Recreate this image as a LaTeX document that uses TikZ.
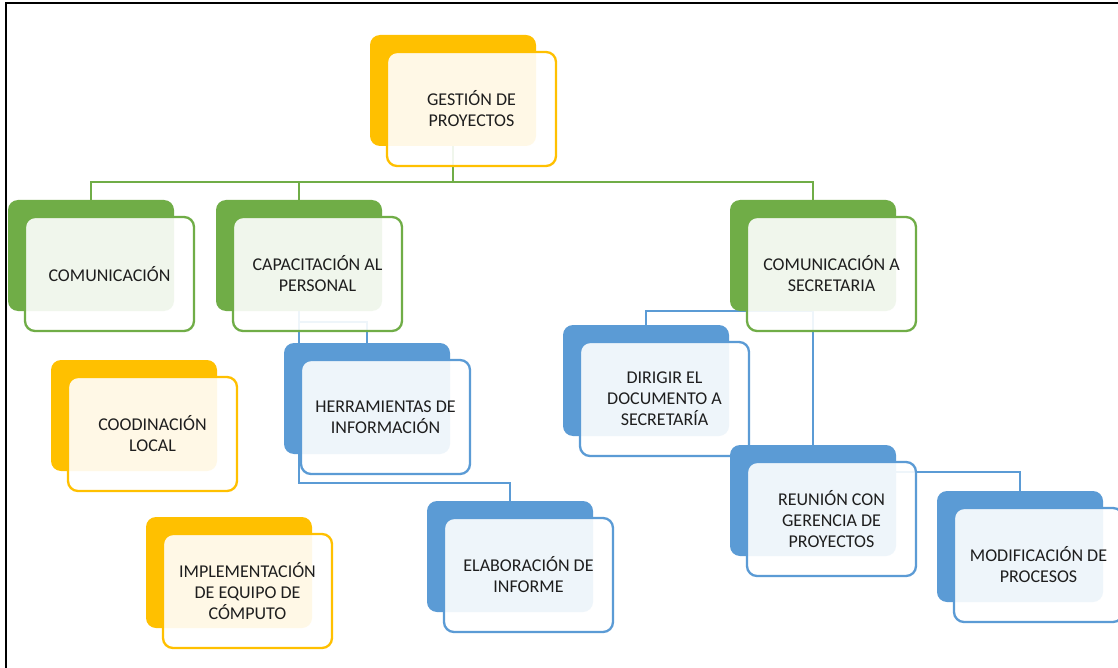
\documentclass[tikz,border=0pt]{standalone}
\usepackage{fontspec}
\setmainfont{Carlito}
\usetikzlibrary{calc}
\definecolor{cyel}{HTML}{FFC000}
\definecolor{cgrn}{HTML}{70AD47}
\definecolor{cblu}{HTML}{5B9BD5}
\definecolor{ctxt}{HTML}{1E1E1E}
\pgfdeclarelayer{paper}
\pgfdeclarelayer{links}
\pgfsetlayers{paper,links,main}
\tikzset{
  backbox/.style={draw=none, fill=#1, rounded corners=10pt,
    minimum width=166pt, minimum height=111pt, anchor=north west,
    inner sep=0pt, outer sep=0pt},
  frontbox/.style={draw=#1, line width=2.3pt, fill=white, fill opacity=0.9,
    text opacity=1, rounded corners=10pt, minimum width=169pt,
    minimum height=114pt, anchor=north west, inner sep=0pt, outer sep=0pt,
    align=center, text=ctxt, font=\fontsize{18}{21}\selectfont},
  linkg/.style={draw=cgrn, line width=2.8pt},
  linkb/.style={draw=cblu, line width=2.5pt}
}
% a card: coloured block behind, translucent outlined block in front
\newcommand\tarjeta[5]{%
  \node[backbox=#2] (#1B) at (#3,#4) {};
  \node[frontbox=#2] (#1F) at (#3+17,#4+17) {#5};
}
\begin{document}
\begin{tikzpicture}[x=1pt,y=-1pt]
\useasboundingbox (0,0) rectangle (1118,668);
\begin{pgfonlayer}{paper}
  \fill[white] (0,0) rectangle (1118,668);
\end{pgfonlayer}
% outer frame
\draw[line width=2pt, black] (6,700) -- (6,3) -- (1130,3);

\tarjeta{gest}{cyel}{370}{35}{GESTIÓN DE\\PROYECTOS}
\tarjeta{com}{cgrn}{8}{200}{COMUNICACIÓN}
\tarjeta{cap}{cgrn}{216}{200}{CAPACITACIÓN AL\\PERSONAL}
\tarjeta{sec}{cgrn}{730}{200}{COMUNICACIÓN A\\SECRETARIA}
\tarjeta{coo}{cyel}{51}{360}{COODINACIÓN\\LOCAL}
\tarjeta{imp}{cyel}{146}{517}{IMPLEMENTACIÓN\\DE EQUIPO DE\\CÓMPUTO}
\tarjeta{her}{cblu}{284}{343}{HERRAMIENTAS DE\\INFORMACIÓN}
\tarjeta{ela}{cblu}{427}{501}{ELABORACIÓN DE\\INFORME}
\tarjeta{dir}{cblu}{563}{325}{DIRIGIR EL\\DOCUMENTO A\\SECRETARÍA}
\tarjeta{reu}{cblu}{730}{445}{REUNIÓN CON\\GERENCIA DE\\PROYECTOS}
\tarjeta{mod}{cblu}{937}{491}{MODIFICACIÓN DE\\PROCESOS}

\begin{pgfonlayer}{links}
  \draw[linkg] (gestB.south) -- ++(0,36) coordinate (hub);
  \draw[linkg] (comB.north) |- (hub);
  \draw[linkg] (capB.north) |- (hub);
  \draw[linkg] (secB.north) |- (hub);
  \draw[linkb] (capB.south) -- ++(0,11) -| (herB.north);
  \draw[linkb] (capB.south) -- ++(0,172) -| (elaB.north);
  \draw[linkb] (secB.south) -| (dirB.north);
  \draw[linkb] (secB.south) -- (reuB.north);
  \draw[linkb] (secB.south) -- ++(0,161) -| (modB.north);
\end{pgfonlayer}
\end{tikzpicture}
\end{document}
